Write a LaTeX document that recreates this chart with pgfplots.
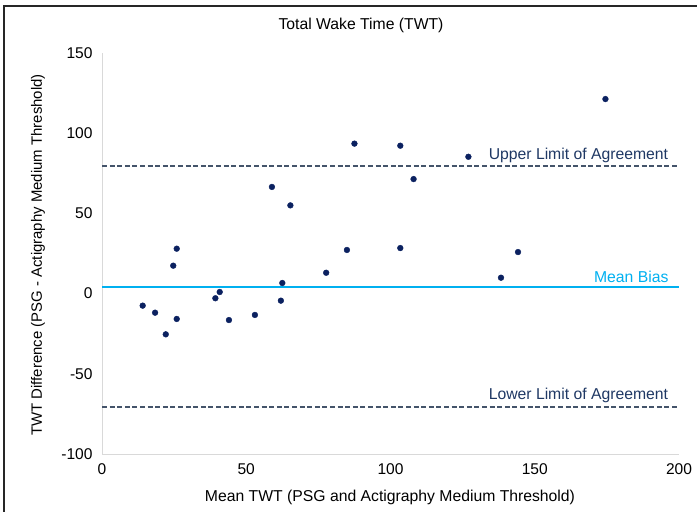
\documentclass[border=0pt]{standalone}
\usepackage{pgfplots}
\pgfplotsset{compat=1.18}
\usepackage{fontspec}
\setmainfont{Liberation Sans}
\definecolor{ptcol}{HTML}{0B2160}
\definecolor{limcol}{HTML}{44546A}
\definecolor{limtxt}{HTML}{1F3864}
\definecolor{biascol}{HTML}{00B0F0}
\definecolor{axcol}{HTML}{D9D9D9}
\begin{document}
\begin{tikzpicture}[x=1bp,y=1bp]
\useasboundingbox (-102bp,-58bp) rectangle (595bp,454bp);
\draw[line width=1.5bp, black!85] (-98bp,-60bp) -- (-98bp,448bp) -- (600bp,448bp);
\begin{axis}[
  at={(0,0)}, anchor=south west,
  scale only axis,
  width=577bp, height=401bp,
  xmin=0, xmax=200, ymin=-100, ymax=150,
  xtick={0,50,...,200}, ytick={-100,-50,...,150},
  axis x line*=bottom, axis y line*=left,
  axis line style={axcol, line width=1bp, -},
  major tick length=0pt,
  tick style={draw=none},
  /pgf/number format/assume math mode=true,
  ticklabel style={font=\fontsize{15.6}{18}\selectfont, text=black},
  xticklabel style={yshift=-6bp},
  yticklabel style={xshift=-6bp},
  clip=false,
]
\addplot[biascol, line width=2bp] coordinates {(0,4.4) (200,4.4)};
\addplot[limcol, line width=1.6bp, dash pattern=on 5bp off 2.6bp] coordinates {(0,79.4) (200,79.4)};
\addplot[limcol, line width=1.6bp, dash pattern=on 5bp off 2.6bp] coordinates {(0,-70.6) (200,-70.6)};
\addplot[only marks, mark=*, mark size=2.9bp, mark options={fill=ptcol, draw=ptcol}] coordinates {
(25.9,28.0) (24.7,17.4) (14.1,-7.5) (18.4,-11.9) (25.9,-15.8) (22.1,-25.4)
(58.9,66.5) (65.3,55.0) (62.5,6.6) (40.8,1.0) (39.3,-2.9) (62.0,-4.4) (53.0,-13.3) (44.0,-16.5)
(87.5,93.5) (103.4,92.2) (108.0,71.4) (84.9,27.2) (103.4,28.4) (77.7,13.0)
(174.5,121.3) (127.0,85.3) (144.2,25.9) (138.3,9.9)
};
\node[anchor=east, text=limtxt, font=\fontsize{15.8}{18}\selectfont, inner sep=0pt] at (axis cs:196.3,86.4) {Upper Limit of Agreement};
\node[anchor=east, text=biascol, font=\fontsize{15.8}{18}\selectfont, inner sep=0pt] at (axis cs:196.4,10.4) {Mean Bias};
\node[anchor=east, text=limtxt, font=\fontsize{15.8}{18}\selectfont, inner sep=0pt] at (axis cs:196.3,-63.2) {Lower Limit of Agreement};
\end{axis}
\node[font=\fontsize{15.8}{18}\selectfont, inner sep=0pt] at (259bp,429bp) {Total Wake Time (TWT)};
\node[font=\fontsize{15.8}{18}\selectfont, inner sep=0pt] at (288bp,-43bp) {Mean TWT (PSG and Actigraphy Medium Threshold)};
\node[font=\fontsize{15}{18}\selectfont, inner sep=0pt, rotate=90] at (-64bp,199bp) {TWT Difference (PSG - Actigraphy Medium Threshold)};
\end{tikzpicture}
\end{document}
